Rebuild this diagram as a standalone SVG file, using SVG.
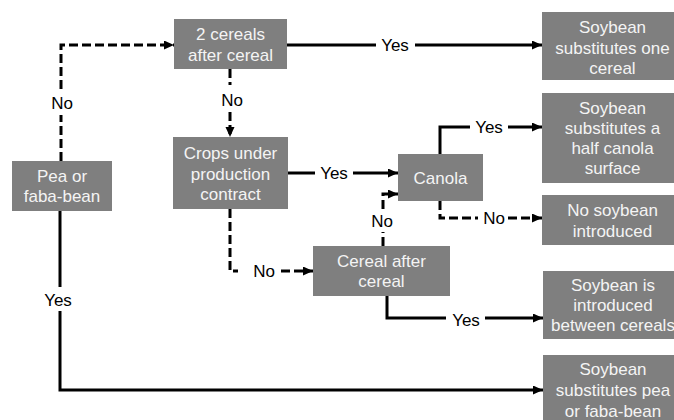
<svg xmlns="http://www.w3.org/2000/svg" width="674" height="420" viewBox="0 0 674 420">
<style>
.box{fill:#7f7f7f}
.bt{font-family:"Liberation Sans",Arial,sans-serif;font-size:17px;fill:#f4f4f4;text-anchor:middle}
.lb{font-family:"Liberation Sans",Arial,sans-serif;font-size:17px;fill:#000000;text-anchor:middle}
.s{fill:none;stroke:#000;stroke-width:3}
.d{fill:none;stroke:#000;stroke-width:3;stroke-dasharray:9 4}
</style>
<defs>
<marker id="ah" markerUnits="userSpaceOnUse" markerWidth="11" markerHeight="10" refX="10" refY="4.5" orient="auto">
<path d="M0,0 L10,4.5 L0,9 z" fill="#000"/>
</marker>
</defs>
<rect width="674" height="420" fill="#ffffff"/>
<g id="connectors">
<path class="d" d="M61,161 V115"/>
<path class="d" d="M61,89 V45 H174" marker-end="url(#ah)"/>
<text class="lb" x="62" y="109">No</text>
<path class="s" d="M287,45 H376"/>
<path class="s" d="M415,45 H542" marker-end="url(#ah)"/>
<text class="lb" x="395" y="51">Yes</text>
<path class="d" d="M230,69 V85"/>
<path class="d" d="M230,112 V137" marker-end="url(#ah)"/>
<text class="lb" x="232" y="106">No</text>
<path class="s" d="M288,173 H315"/>
<path class="s" d="M353,173 H398" marker-end="url(#ah)"/>
<text class="lb" x="334" y="179">Yes</text>
<path class="d" d="M230,209 V271 H238"/>
<path class="d" d="M281,271 H313" marker-end="url(#ah)"/>
<text class="lb" x="264" y="277">No</text>
<path class="d" d="M383,246 V232"/>
<path class="d" d="M383,209 V194 H398" marker-end="url(#ah)"/>
<text class="lb" x="382" y="227">No</text>
<path class="s" d="M440,154 V127 H470"/>
<path class="s" d="M508,127 H542" marker-end="url(#ah)"/>
<text class="lb" x="489" y="133">Yes</text>
<path class="d" d="M440,201 V218 H478"/>
<path class="d" d="M508,218 H542" marker-end="url(#ah)"/>
<text class="lb" x="494" y="224">No</text>
<path class="s" d="M387,296 V318 H446"/>
<path class="s" d="M485,318 H543" marker-end="url(#ah)"/>
<text class="lb" x="466" y="326">Yes</text>
<path class="s" d="M60,211 V287"/>
<path class="s" d="M60,311 V390 H543" marker-end="url(#ah)"/>
<text class="lb" x="58" y="306">Yes</text>
</g>
<g id="n-two-cereals"><rect class="box" x="174" y="19" width="113" height="50"/><text class="bt" x="230.5" y="40">2 cereals</text><text class="bt" x="230.5" y="61">after cereal</text></g>
<g id="n-one-cereal"><rect class="box" x="542" y="12" width="140" height="68"/><text class="bt" x="612.5" y="33">Soybean</text><text class="bt" x="612.5" y="54">substitutes one</text><text class="bt" x="612.5" y="74">cereal</text></g>
<g id="n-half-canola"><rect class="box" x="542" y="93" width="140" height="90"/><text class="bt" x="612.5" y="114">Soybean</text><text class="bt" x="612.5" y="134">substitutes a</text><text class="bt" x="612.5" y="154">half canola</text><text class="bt" x="612.5" y="174">surface</text></g>
<g id="n-canola"><rect class="box" x="398" y="154" width="85" height="47"/><text class="bt" x="440.5" y="184">Canola</text></g>
<g id="n-no-soybean"><rect class="box" x="542" y="195" width="140" height="50"/><text class="bt" x="612.5" y="216">No soybean</text><text class="bt" x="612.5" y="237">introduced</text></g>
<g id="n-crops"><rect class="box" x="173" y="137" width="115" height="72"/><text class="bt" x="230.5" y="159">Crops under</text><text class="bt" x="230.5" y="179.5">production</text><text class="bt" x="230.5" y="200">contract</text></g>
<g id="n-pea"><rect class="box" x="12" y="161" width="100" height="50"/><text class="bt" x="62" y="182">Pea or</text><text class="bt" x="62" y="202">faba-bean</text></g>
<g id="n-cereal-after"><rect class="box" x="313" y="246" width="137" height="50"/><text class="bt" x="381.5" y="267">Cereal after</text><text class="bt" x="381.5" y="287">cereal</text></g>
<g id="n-between"><rect class="box" x="543" y="271" width="140" height="68"/><text class="bt" x="613" y="291">Soybean is</text><text class="bt" x="613" y="311">introduced</text><text class="bt" x="613" y="331">between cereals</text></g>
<g id="n-sub-pea"><rect class="box" x="543" y="355" width="140" height="70"/><text class="bt" x="613" y="375">Soybean</text><text class="bt" x="613" y="396">substitutes pea</text><text class="bt" x="613" y="417">or faba-bean</text></g>
</svg>
